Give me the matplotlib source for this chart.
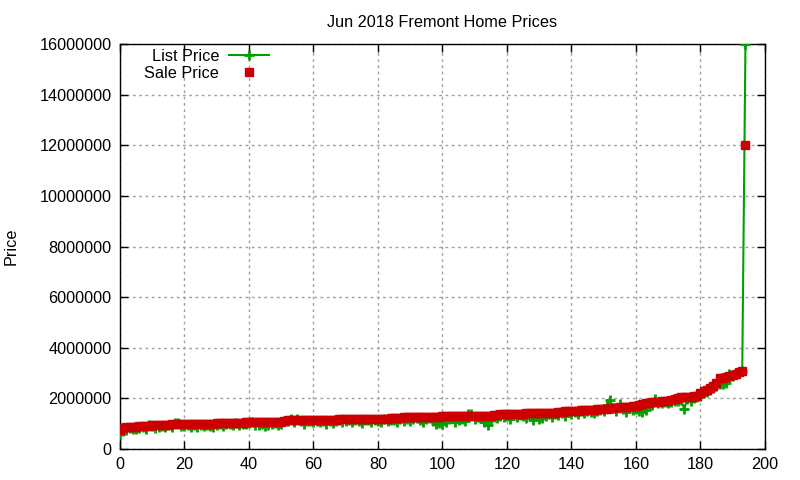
#!/usr/bin/env python3
"""
Jun 2018 Fremont home prices: list vs sale price, sorted by sale price.
"""
import numpy as np
import matplotlib
matplotlib.use('Agg')
import matplotlib.pyplot as plt

# prices in thousands of dollars, one entry per home (sorted by sale price)
sale_k = [
    750, 830, 880, 880, 885, 885, 920, 920, 925, 925,
    960, 960, 960, 965, 965, 965, 970, 970, 970, 990,
    990, 990, 995, 995, 995, 1000, 1000, 1000, 1005, 1005,
    1030, 1030, 1030, 1035, 1035, 1035, 1040, 1040, 1040, 1070,
    1070, 1070, 1070, 1075, 1075, 1075, 1080, 1080, 1080, 1080,
    1085, 1120, 1150, 1150, 1150, 1150, 1155, 1155, 1155, 1155,
    1160, 1160, 1160, 1160, 1165, 1165, 1165, 1165, 1170, 1170,
    1170, 1190, 1190, 1190, 1195, 1195, 1195, 1200, 1200, 1200,
    1200, 1205, 1205, 1205, 1210, 1240, 1240, 1240, 1245, 1245,
    1245, 1250, 1250, 1250, 1250, 1255, 1255, 1280, 1280, 1280,
    1285, 1285, 1285, 1285, 1290, 1290, 1290, 1290, 1295, 1295,
    1310, 1310, 1315, 1315, 1320, 1320, 1360, 1360, 1365, 1365,
    1365, 1370, 1370, 1370, 1400, 1400, 1405, 1405, 1410, 1410,
    1410, 1415, 1430, 1430, 1435, 1440, 1470, 1475, 1510, 1510,
    1515, 1515, 1520, 1550, 1550, 1555, 1555, 1560, 1565, 1590,
    1595, 1600, 1630, 1635, 1635, 1640, 1660, 1665, 1670, 1680,
    1700, 1740, 1760, 1820, 1830, 1860, 1860, 1870, 1880, 1900,
    1910, 1940, 1980, 2000, 2050, 2060, 2060, 2070, 2080, 2100,
    2200, 2290, 2340, 2420, 2490, 2610, 2810, 2820, 2850, 2890,
    2920, 2960, 3050, 3100, 12000,
]

list_k = [
    600, 700, 760, 820, 780, 790, 830, 860, 800, 960,
    900, 830, 880, 920, 850, 940, 870, 1040, 1020, 920,
    900, 940, 880, 960, 850, 930, 900, 960, 920, 880,
    950, 1000, 920, 980, 990, 940, 1010, 960, 990, 1000,
    1020, 1050, 930, 950, 1000, 900, 960, 980, 1020, 940,
    1000, 1090, 1120, 1180, 1050, 1200, 1120, 1000, 1090, 1110,
    1060, 1100, 1080, 1120, 1000, 1090, 1040, 1110, 1130, 1070,
    1090, 1140, 1060, 1150, 1100, 1030, 1130, 1160, 1080, 1150,
    1120, 1050, 1170, 1100, 1150, 1140, 1060, 1190, 1120, 1200,
    1100, 1170, 1210, 1150, 1080, 1190, 1220, 1100, 1000, 1020,
    1000, 1050, 1180, 1230, 1060, 1150, 1200, 1120, 1380, 1400,
    1200, 1250, 1230, 1050, 950, 1200, 1280, 1220, 1300, 1250,
    1290, 1200, 1330, 1260, 1350, 1300, 1220, 1380, 1150, 1330,
    1200, 1220, 1300, 1380, 1250, 1400, 1350, 1420, 1310, 1460,
    1400, 1460, 1380, 1500, 1440, 1520, 1470, 1420, 1500, 1530,
    1500, 1720, 1950, 1620, 1520, 1780, 1600, 1480, 1620, 1560,
    1600, 1500, 1450, 1550, 1780, 1750, 1990, 1800, 1820, 1850,
    1800, 1850, 1900, 1880, 1950, 1580, 1980, 1900, 2000, 2050,
    2100, 2200, 2250, 2350, 2400, 2500, 2550, 2550, 2600, 2950,
    2900, 3000, 3000, 3100, 16000,
]

GREEN = '#00a000'
RED = '#cc0000'


def main():
    plt.rcParams['font.family'] = ['Liberation Sans', 'DejaVu Sans']
    sale = np.array(sale_k, dtype=float) * 1000
    lst = np.array(list_k, dtype=float) * 1000
    idx = np.arange(len(sale))

    fig = plt.figure(figsize=(8, 4.8), dpi=100)
    ax = fig.add_axes([0.15, 0.0646, 0.806, 0.8434])

    ax.plot(idx, lst, color=GREEN, lw=1.5, marker='+', ms=7, mew=2,
            label='List Price', zorder=3)
    ax.plot(idx, sale, ls='none', color=RED, marker='s', ms=6.3,
            label='Sale Price', zorder=4)

    ax.set_xlim(0, 200)
    ax.set_ylim(0, 16000000)
    ax.set_xticks(np.arange(0, 201, 20))
    ax.set_yticks(np.arange(0, 16000001, 2000000))
    ax.ticklabel_format(axis='y', style='plain', useOffset=False)
    ax.tick_params(direction='in', length=6, width=1, top=True, right=True,
                   labelsize=11.7, colors='black', pad=6)
    ax.grid(True, color='#a0a0a0', ls=(0, (2, 2.5)), lw=1)
    for s in ax.spines.values():
        s.set_linewidth(1)
        s.set_color('black')

    ax.set_title('Jun 2018 Fremont Home Prices', fontsize=11.7, pad=12)
    ax.set_ylabel('Price', fontsize=11.7, labelpad=15)

    ax.legend(loc='upper left', bbox_to_anchor=(0.03, 1.0), frameon=False,
              markerfirst=False, fontsize=11.7, handlelength=2.5,
              handletextpad=0.6, labelspacing=0.1, borderpad=0.1,
              borderaxespad=0.2)

    fig.savefig('out.png', dpi=100)


if __name__ == '__main__':
    main()
